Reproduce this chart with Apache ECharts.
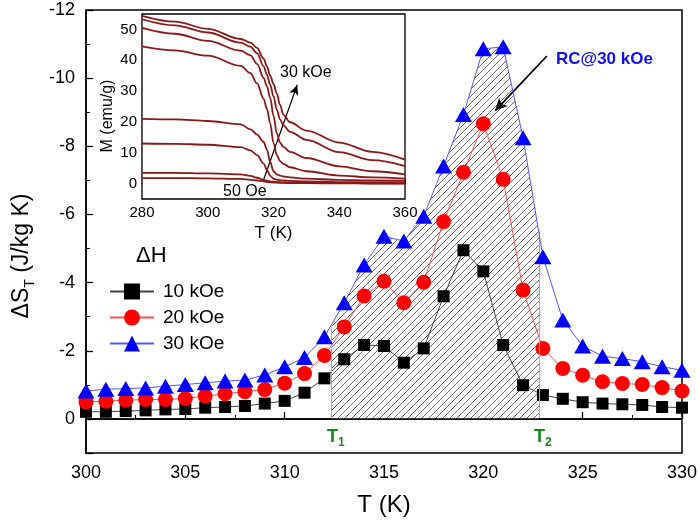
<!DOCTYPE html>
<html><head><meta charset="utf-8">
<script src="https://cdn.jsdelivr.net/npm/echarts@6/dist/echarts.min.js"></script>
<style>html,body{margin:0;padding:0;background:#fff}#c{width:700px;height:530px}</style>
</head><body><div id="c"></div>
<script>
// ---- main panel data: ΔS_T (J/kg K) vs T (K)
const temps = [300,301,302,303,304,305,306,307,308,309,310,311,312,313,314,315,316,317,318,319,320,321,322,323,324,325,326,327,328,329,330];
const dS10kOe = [-0.21,-0.21,-0.23,-0.25,-0.28,-0.29,-0.33,-0.35,-0.38,-0.45,-0.53,-0.77,-1.19,-1.75,-2.17,-2.14,-1.65,-2.07,-3.60,-4.95,-4.33,-2.17,-0.99,-0.70,-0.59,-0.49,-0.45,-0.43,-0.41,-0.35,-0.33];
const dS20kOe = [-0.50,-0.52,-0.55,-0.57,-0.57,-0.60,-0.67,-0.74,-0.80,-0.86,-1.05,-1.33,-1.86,-2.70,-3.61,-4.04,-3.41,-4.01,-5.79,-7.24,-8.66,-7.03,-3.78,-2.07,-1.48,-1.28,-1.09,-1.04,-1.01,-0.92,-0.82];
const dS30kOe = [-0.82,-0.87,-0.89,-0.91,-0.96,-1.01,-1.06,-1.11,-1.14,-1.29,-1.53,-1.80,-2.41,-3.41,-4.52,-5.36,-5.22,-5.95,-7.42,-8.93,-10.86,-10.92,-8.25,-4.76,-2.90,-2.14,-1.84,-1.77,-1.68,-1.53,-1.43];
const seriesNames = ['10 kOe','20 kOe','30 kOe'];
// RC (hatched) region under 30 kOe curve between T1 and T2
const T1 = 312.35, T2 = 322.8;
const rcT = [312.35,313,314,315,316,317,318,319,320,321,322,322.8];
const rcS = [-2.70,-3.41,-4.52,-5.36,-5.22,-5.95,-7.42,-8.93,-10.86,-10.92,-8.25,-5.50];
// main tick labels
const xTicks = [300,305,310,315,320,325,330];
const yTicks = [-12,-10,-8,-6,-4,-2,0];

// ---- inset data: M (emu/g) vs T (K), 8 fields from 50 Oe to 30 kOe
const insetT = [280,290,300,310,313,315,317,318,319,320,321,322,323,325,330,340,350,360];
const M_a = [54.4,52.5,50.2,46.9,45.7,44.0,40.5,38.0,35.0,32.3,29.2,25.5,22.3,19.9,17.2,13.3,10.3,7.8];
const M_b = [53.3,51.3,49.0,45.7,44.4,42.3,38.0,35.3,32.0,28.3,24.0,20.8,18.9,16.8,14.2,10.2,7.6,5.7];
const M_c = [50.5,48.6,46.3,43.1,41.6,38.8,34.3,31.5,27.8,22.0,16.3,13.3,11.9,10.3,8.3,5.6,4.0,3.0];
const M_d = [44.5,43.2,41.5,38.2,35.8,32.5,27.5,24.2,19.5,13.2,9.2,7.3,6.4,5.3,4.0,2.6,2.0,1.6];
const M_e = [21.0,20.8,20.3,19.2,17.6,15.9,13.5,11.0,7.0,4.0,3.0,2.6,2.3,2.0,1.6,1.2,1.0,0.9];
const M_f = [13.0,12.9,12.6,11.8,10.8,9.2,6.5,4.5,2.5,1.6,1.3,1.1,1.0,0.9,0.7,0.5,0.4,0.3];
const M_g = [3.5,3.5,3.3,3.0,2.5,1.9,1.2,0.9,0.7,0.6,0.5,0.45,0.4,0.35,0.25,0.15,0.1,0.1];
const M_h = [1.8,1.8,1.7,1.5,1.2,1.0,0.7,0.55,0.45,0.35,0.3,0.25,0.2,0.18,0.12,0.06,0.03,0.0];
const insetCurves = [M_a,M_b,M_c,M_d,M_e,M_f,M_g,M_h];
const insetYTicks = [0,10,20,30,40,50];

const F = 'Liberation Sans, Arial, Helvetica, sans-serif';

function hatchCanvas(){
  const s = 7, c = document.createElement('canvas');
  c.width = s; c.height = s;
  const g = c.getContext('2d');
  g.fillStyle = '#ffffff'; g.fillRect(0,0,s,s);
  g.strokeStyle = '#666666'; g.lineWidth = 1;
  g.beginPath();
  g.moveTo(0,s); g.lineTo(s,0);
  g.moveTo(-1,1); g.lineTo(1,-1);
  g.moveTo(s-1,s+1); g.lineTo(s+1,s-1);
  g.stroke();
  return c;
}

const chart = echarts.init(document.getElementById('c'), null, {renderer:'canvas'});
const pair = (xs, ys) => xs.map((x,i)=>[x, ys[i]]);

const mainStyles = [
  {color:'#000000', line:'#444444', symbol:'rect', size:12},
  {color:'#ff0000', line:'#ff5050', symbol:'circle', size:15},
  {color:'#0000ff', line:'#5555ff', symbol:'triangle', size:[17,15]}
];
const mainData = [dS10kOe, dS20kOe, dS30kOe];

const series = [];
// hatched RC area
series.push({
  type:'line', xAxisIndex:0, yAxisIndex:0, z:1,
  data: pair(rcT, rcS), showSymbol:false, symbol:'none',
  lineStyle:{width:0},
  areaStyle:{color:{image:hatchCanvas(), repeat:'repeat'}, opacity:1},
  silent:true,
  markLine:{
    silent:true, symbol:['none','none'], label:{show:false},
    lineStyle:{color:'#aaaaaa', width:1, type:'solid'},
    data:[
      [{coord:[T1,0]},{coord:[T1,rcS[0]]}],
      [{coord:[T2,0]},{coord:[T2,rcS[rcS.length-1]]}]
    ]
  }
});
mainData.forEach((d,k)=>{
  const st = mainStyles[k];
  const s = {
    name: seriesNames[k], type:'line', xAxisIndex:0, yAxisIndex:0, z:3+k,
    data: pair(temps, d),
    symbol: st.symbol, symbolSize: st.size, showSymbol:true,
    itemStyle:{color:st.color},
    lineStyle:{color:st.line, width:1},
    clip:false
  };
  if (k===0) {
    s.markLine = {silent:true, symbol:['none','none'], label:{show:false},
      lineStyle:{color:'#000', width:1.5, type:'solid'},
      data:[{yAxis:0}]};
  }
  if (k===2) {
    s.markLine = {silent:true, symbol:['none','arrow'], symbolSize:[9,12], label:{show:false},
      lineStyle:{color:'#000', width:1.8, type:'solid', curveness:-0.5},
      data:[[{coord:[323.2,-10.65]},{coord:[320.6,-9.05]}]]};
  }
  series.push(s);
});
// inset curves
insetCurves.forEach((m,k)=>{
  const s = {
    type:'line', xAxisIndex:1, yAxisIndex:1, z:5,
    data: pair(insetT, m), showSymbol:false, symbol:'none',
    smooth:0.35, smoothMonotone:'x',
    lineStyle:{color:'#8a1818', width:1.8},
    silent:true
  };
  if (k===0) {
    s.markLine = {silent:true, symbol:['none','arrow'], symbolSize:[7,10], label:{show:false},
      lineStyle:{color:'#000', width:1.2, type:'solid'},
      data:[[{coord:[316.8,0.7]},{coord:[327.2,32]}]]};
  }
  series.push(s);
});

const option = {
  backgroundColor:'#ffffff',
  animation:false,
  textStyle:{fontFamily:F},
  grid:[
    {left:86, right:17, top:10, bottom:77, show:true, borderColor:'#000', borderWidth:1.5, backgroundColor:'transparent'},
    {left:142, top:14, width:263, height:185, show:true, borderColor:'#000', borderWidth:1.3, backgroundColor:'#ffffff', z:2}
  ],
  legend:{
    data: seriesNames, orient:'vertical', left:104, top:277,
    itemWidth:44, itemHeight:20, itemGap:7,
    textStyle:{fontSize:19, color:'#000', fontFamily:F, padding:[0,0,0,4]}
  },
  xAxis:[
    {gridIndex:0, type:'value', min:xTicks[0], max:xTicks[xTicks.length-1], interval:5,
     axisLine:{show:true, lineStyle:{color:'#000', width:1.5}},
     axisTick:{show:true, inside:true, length:7, lineStyle:{color:'#000', width:1.3}},
     minorTick:{show:true, splitNumber:2, length:4, lineStyle:{color:'#000', width:1.1}},
     axisLabel:{fontSize:18, color:'#000', margin:11, fontFamily:F},
     splitLine:{show:false},
     name:'T (K)', nameLocation:'middle', nameGap:40,
     nameTextStyle:{fontSize:24, color:'#000', fontFamily:F}},
    {gridIndex:1, type:'value', min:280, max:360, interval:20,
     axisLine:{show:true, lineStyle:{color:'#000', width:1.2}},
     axisTick:{show:true, inside:true, length:5, lineStyle:{color:'#000'}},
     minorTick:{show:true, splitNumber:2, length:3, lineStyle:{color:'#000'}},
     axisLabel:{fontSize:15, color:'#000', margin:6, fontFamily:F},
     splitLine:{show:false},
     name:'T (K)', nameLocation:'middle', nameGap:26,
     nameTextStyle:{fontSize:17, color:'#000', fontFamily:F}}
  ],
  yAxis:[
    {gridIndex:0, type:'value', min:yTicks[0], max:1, interval:2, inverse:true,
     axisLine:{show:true, lineStyle:{color:'#000', width:1.5}},
     axisTick:{show:true, inside:true, length:7, lineStyle:{color:'#000', width:1.3}},
     minorTick:{show:true, splitNumber:2, length:4, lineStyle:{color:'#000', width:1.1}},
     axisLabel:{fontSize:18, color:'#000', margin:11, fontFamily:F,
       formatter: v => (yTicks.indexOf(v) >= 0 ? String(v) : '')},
     splitLine:{show:false}},
    {gridIndex:1, type:'value', min:-5, max:55,
     axisLine:{show:true, lineStyle:{color:'#000', width:1.2}},
     axisTick:{show:true, inside:true, length:5, lineStyle:{color:'#000'}, customValues: insetYTicks},
     axisLabel:{fontSize:15, color:'#000', margin:5, fontFamily:F, customValues: insetYTicks},
     splitLine:{show:false}}
  ],
  graphic:[
    {type:'text', x:22, y:256, rotation:Math.PI/2, z:10,
     style:{text:'{a|ΔS}{s|T}{a| (J/kg K)}', align:'center', verticalAlign:'middle', fill:'#000',
       rich:{a:{fontSize:23, fontFamily:F, lineHeight:30, fill:'#000'},
             s:{fontSize:14, fontFamily:F, lineHeight:14, verticalAlign:'bottom', fill:'#000'}}}},
    {type:'text', x:108, y:116, rotation:Math.PI/2, z:10,
     style:{text:'M (emu/g)', align:'center', verticalAlign:'middle', fill:'#000', fontSize:16, fontFamily:F}},
    {type:'text', left:136, top:245, z:10,
     style:{text:'ΔH', fill:'#000', fontSize:22, fontFamily:F}},
    {type:'text', x:556, y:59, z:10,
     style:{text:'RC@30 kOe', align:'left', verticalAlign:'middle', fill:'#1010f0', fontSize:17, fontWeight:'bold', fontFamily:F}},
    {type:'text', x:280, y:73, z:10,
     style:{text:'30 kOe', align:'left', verticalAlign:'middle', fill:'#000', fontSize:16, fontFamily:F}},
    {type:'text', x:223, y:192, z:10,
     style:{text:'50 Oe', align:'left', verticalAlign:'middle', fill:'#000', fontSize:16, fontFamily:F}},
    {type:'text', x:327, y:437, z:10,
     style:{text:'{t|T}{s|1}', align:'left', verticalAlign:'middle',
       rich:{t:{fontSize:18, fontWeight:'bold', fill:'#178a17', fontFamily:F, lineHeight:24},
             s:{fontSize:12, fontWeight:'bold', fill:'#178a17', fontFamily:F, lineHeight:12, verticalAlign:'bottom'}}}},
    {type:'text', x:534, y:437, z:10,
     style:{text:'{t|T}{s|2}', align:'left', verticalAlign:'middle',
       rich:{t:{fontSize:18, fontWeight:'bold', fill:'#178a17', fontFamily:F, lineHeight:24},
             s:{fontSize:12, fontWeight:'bold', fill:'#178a17', fontFamily:F, lineHeight:12, verticalAlign:'bottom'}}}}
  ],
  series: series
};
chart.setOption(option);
</script>
</body></html>
